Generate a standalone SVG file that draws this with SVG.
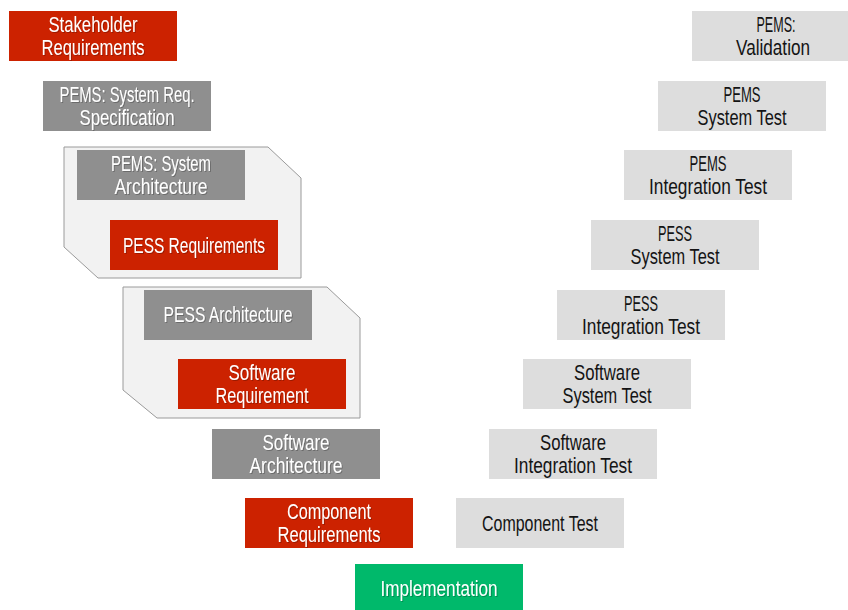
<svg xmlns="http://www.w3.org/2000/svg" width="848" height="610" viewBox="0 0 848 610">
  <defs>
    <filter id="shade" x="-5%" y="-20%" width="110%" height="140%">
      <feDropShadow dx="1" dy="1" stdDeviation="0.6" flood-color="#000000" flood-opacity="0.25"/>
    </filter>
  </defs>
  <style>
    .red { fill: #cc2200; }
    .dark { fill: #8f8f8f; }
    .light { fill: #dddddd; }
    .green { fill: #00b96b; }
    .frame { fill: #f2f2f2; stroke: #9a9a9a; stroke-width: 1; }
    text { font-family: "Liberation Sans", Arial, sans-serif; font-size: 22.5px; text-anchor: middle; }
    .w { fill: #ffffff; filter: url(#shade); }
    .k { fill: #141414; }
  </style>
  <rect width="848" height="610" fill="#ffffff"/>

  <!-- grouping frames -->
  <g id="frame-pems-arch">
    <polygon class="frame" points="64,147 268,147 301,178 301,278 98,278 64,247"/>
  </g>
  <g id="frame-pess-arch">
    <polygon class="frame" points="123,287 327,287 360,318 360,418 157,418 123,390"/>
  </g>

  <!-- left branch: specification -->
  <g id="stakeholder-req">
    <rect class="red" x="9" y="11" width="168" height="50"/>
    <text class="w"><tspan x="93" y="32" textLength="89" lengthAdjust="spacingAndGlyphs">Stakeholder</tspan><tspan x="93" y="55" textLength="103" lengthAdjust="spacingAndGlyphs">Requirements</tspan></text>
  </g>
  <g id="pems-sys-req">
    <rect class="dark" x="43" y="81" width="168" height="50"/>
    <text class="w"><tspan x="127" y="102" textLength="135" lengthAdjust="spacingAndGlyphs">PEMS: System Req.</tspan><tspan x="127" y="125" textLength="95" lengthAdjust="spacingAndGlyphs">Specification</tspan></text>
  </g>
  <g id="pems-sys-arch">
    <rect class="dark" x="77" y="150" width="168" height="50"/>
    <text class="w"><tspan x="161" y="171" textLength="100" lengthAdjust="spacingAndGlyphs">PEMS: System</tspan><tspan x="161" y="194" textLength="93" lengthAdjust="spacingAndGlyphs">Architecture</tspan></text>
  </g>
  <g id="pess-req">
    <rect class="red" x="110" y="220" width="168" height="50"/>
    <text class="w" x="194" y="252.5" textLength="142" lengthAdjust="spacingAndGlyphs">PESS Requirements</text>
  </g>
  <g id="pess-arch">
    <rect class="dark" x="144" y="290" width="168" height="50"/>
    <text class="w" x="228" y="322" textLength="129" lengthAdjust="spacingAndGlyphs">PESS Architecture</text>
  </g>
  <g id="sw-req">
    <rect class="red" x="178" y="359" width="168" height="50"/>
    <text class="w"><tspan x="262" y="380" textLength="67" lengthAdjust="spacingAndGlyphs">Software</tspan><tspan x="262" y="403" textLength="93" lengthAdjust="spacingAndGlyphs">Requirement</tspan></text>
  </g>
  <g id="sw-arch">
    <rect class="dark" x="212" y="429" width="168" height="50"/>
    <text class="w"><tspan x="296" y="450" textLength="67" lengthAdjust="spacingAndGlyphs">Software</tspan><tspan x="296" y="473" textLength="93" lengthAdjust="spacingAndGlyphs">Architecture</tspan></text>
  </g>
  <g id="comp-req">
    <rect class="red" x="245" y="498" width="168" height="50"/>
    <text class="w"><tspan x="329" y="519" textLength="84" lengthAdjust="spacingAndGlyphs">Component</tspan><tspan x="329" y="542" textLength="103" lengthAdjust="spacingAndGlyphs">Requirements</tspan></text>
  </g>

  <!-- bottom -->
  <g id="implementation">
    <rect class="green" x="355" y="564" width="168" height="50"/>
    <text class="w" x="439" y="596" textLength="117" lengthAdjust="spacingAndGlyphs">Implementation</text>
  </g>

  <!-- right branch: verification -->
  <g id="comp-test">
    <rect class="light" x="456" y="498" width="168" height="50"/>
    <text class="k" x="540" y="531" textLength="116" lengthAdjust="spacingAndGlyphs">Component Test</text>
  </g>
  <g id="sw-int-test">
    <rect class="light" x="489" y="429" width="168" height="50"/>
    <text class="k"><tspan x="573" y="450" textLength="66" lengthAdjust="spacingAndGlyphs">Software</tspan><tspan x="573" y="473" textLength="118" lengthAdjust="spacingAndGlyphs">Integration Test</tspan></text>
  </g>
  <g id="sw-sys-test">
    <rect class="light" x="523" y="359" width="168" height="50"/>
    <text class="k"><tspan x="607" y="380" textLength="66" lengthAdjust="spacingAndGlyphs">Software</tspan><tspan x="607" y="403" textLength="89" lengthAdjust="spacingAndGlyphs">System Test</tspan></text>
  </g>
  <g id="pess-int-test">
    <rect class="light" x="557" y="290" width="168" height="50"/>
    <text class="k"><tspan x="641" y="311" textLength="34" lengthAdjust="spacingAndGlyphs">PESS</tspan><tspan x="641" y="334" textLength="118" lengthAdjust="spacingAndGlyphs">Integration Test</tspan></text>
  </g>
  <g id="pess-sys-test">
    <rect class="light" x="591" y="220" width="168" height="50"/>
    <text class="k"><tspan x="675" y="241" textLength="34" lengthAdjust="spacingAndGlyphs">PESS</tspan><tspan x="675" y="264" textLength="89" lengthAdjust="spacingAndGlyphs">System Test</tspan></text>
  </g>
  <g id="pems-int-test">
    <rect class="light" x="624" y="150" width="168" height="50"/>
    <text class="k"><tspan x="708" y="171" textLength="37" lengthAdjust="spacingAndGlyphs">PEMS</tspan><tspan x="708" y="194" textLength="118" lengthAdjust="spacingAndGlyphs">Integration Test</tspan></text>
  </g>
  <g id="pems-sys-test">
    <rect class="light" x="658" y="81" width="168" height="50"/>
    <text class="k"><tspan x="742" y="102" textLength="37" lengthAdjust="spacingAndGlyphs">PEMS</tspan><tspan x="742" y="125" textLength="89" lengthAdjust="spacingAndGlyphs">System Test</tspan></text>
  </g>
  <g id="pems-validation">
    <rect class="light" x="692" y="11" width="168" height="50"/>
    <text class="k"><tspan x="776" y="32" textLength="39" lengthAdjust="spacingAndGlyphs">PEMS:</tspan><tspan x="773" y="55" textLength="74" lengthAdjust="spacingAndGlyphs">Validation</tspan></text>
  </g>
</svg>
